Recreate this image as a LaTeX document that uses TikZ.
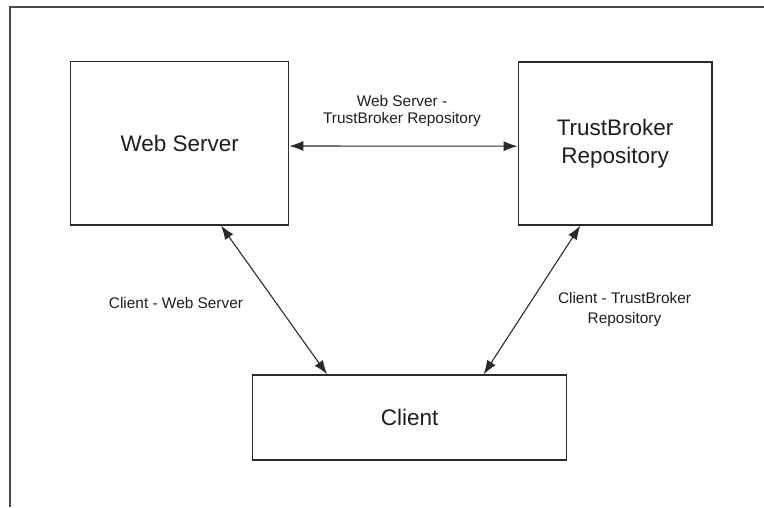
\documentclass[tikz,border=0pt]{standalone}
\usepackage{fontspec}
\setmainfont{Liberation Sans}
\usetikzlibrary{arrows.meta}
\definecolor{ink}{HTML}{1E1E1E}
\definecolor{edge}{HTML}{2A2A2A}
\tikzset{
  box/.style={draw=edge, line width=1.3pt, inner sep=0pt, text=ink, align=center,
    font=\fontsize{22.5}{29.3}\selectfont},
  lbl/.style={text=ink, align=center, inner sep=0pt},
  conn/.style={draw=edge, line width=1.1pt, {Latex[length=14pt,width=10pt]}-{Latex[length=14pt,width=10pt]}},
  frame/.style={draw=edge!85, line width=1.2pt}
}
\begin{document}
\begin{tikzpicture}[x=1pt,y=-1pt]
\useasboundingbox (0,0) rectangle (764,507);
\coordinate (ftop) at (764,7);
\coordinate (fcorner) at (10,7);
\coordinate (fbot) at (10,507);
\draw[frame] (ftop) -- (fcorner) -- (fbot);

\node[box, minimum width=218pt, minimum height=163.3pt] (ws) at (179.7,143.3) {\raisebox{-3.5pt}{Web Server}};
\node[box, minimum width=193.7pt, minimum height=163pt] (tb) at (615.1,143.5) {\raisebox{-2.5pt}{\begin{tabular}{@{}c@{}}TrustBroker\\[-1pt]Repository\end{tabular}}};
\node[box, minimum width=314pt, minimum height=85pt] (cl) at (409.7,417.5) {Client};

\draw[conn] ([yshift=-2.7pt]ws.east) -- ([yshift=-2.7pt]tb.west);
\draw[conn] ([xshift=151pt]ws.south west) -- ([xshift=75pt]cl.north west);
\draw[conn] ([xshift=62.7pt]tb.south west) -- ([xshift=231.6pt]cl.north west);

\node[lbl, font=\fontsize{15.4}{17.5}\selectfont] (l1) at (402,111) {Web Server -\\TrustBroker Repository};
\node[lbl, font=\fontsize{15.4}{15.4}\selectfont] (l2) at (176,303) {Client - Web Server};
\node[lbl, font=\fontsize{15.4}{19.5}\selectfont] (l3) at (624.5,309.5) {Client - TrustBroker\\Repository};
\end{tikzpicture}
\end{document}
